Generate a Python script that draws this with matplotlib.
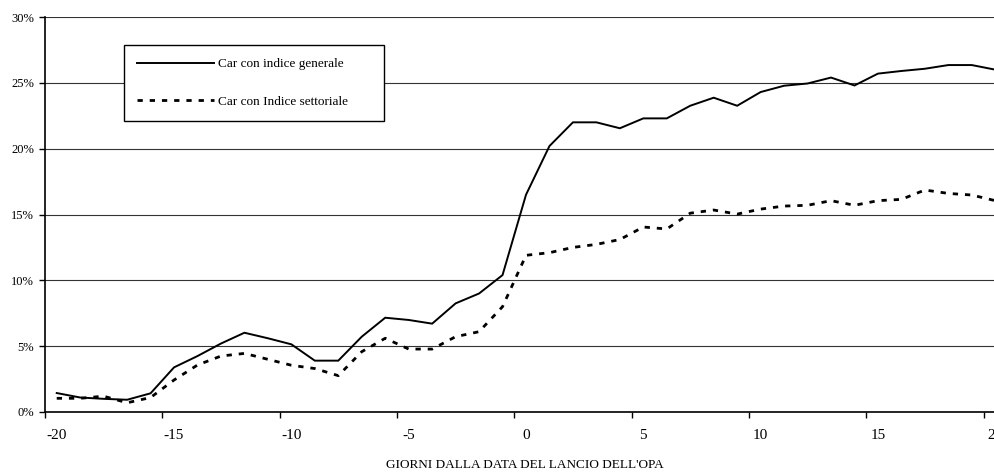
import numpy as np
import matplotlib
matplotlib.use("Agg")
import matplotlib.pyplot as plt
from matplotlib.ticker import FixedLocator, PercentFormatter

plt.rcParams['font.family'] = ['Liberation Serif', 'DejaVu Serif']

# days relative to the OPA announcement
giorni = list(range(-20, 21))

# CAR vs general market index (%)
car_generale = [1.44, 1.10, 1.00, 0.93, 1.42, 3.39, 4.25, 5.20, 6.02, 5.60,
                5.14, 3.90, 3.90, 5.72, 7.16, 6.99, 6.71, 8.25, 9.00, 10.40,
                16.50, 20.20, 22.00, 22.00, 21.55, 22.30, 22.30, 23.26, 23.87, 23.26,
                24.30, 24.78, 24.95, 25.40, 24.80, 25.70, 25.90, 26.07, 26.35, 26.35,
                26.00]

# CAR vs sector index (%)
car_settoriale = [1.04, 1.04, 1.20, 0.70, 1.10, 2.43, 3.57, 4.25, 4.45, 4.00,
                  3.55, 3.30, 2.76, 4.58, 5.60, 4.78, 4.78, 5.72, 6.10, 8.00,
                  11.90, 12.10, 12.50, 12.73, 13.10, 14.05, 13.90, 15.10, 15.34, 15.03,
                  15.41, 15.64, 15.70, 16.05, 15.70, 16.05, 16.15, 16.86, 16.60, 16.48,
                  16.05]

xtick_labels = [-20, -15, -10, -5, 0, 5, 10, 15, 20]
ytick_values = [0, 5, 10, 15, 20, 25, 30]

fig = plt.figure(figsize=(9.95, 4.72), dpi=100)
# plot area runs past the right edge, like the cropped original
ax = fig.add_axes([45 / 995, 60 / 472, 962 / 995, 395 / 472])

ax.plot(giorni, car_generale, color='black', lw=1.4, solid_joinstyle='miter',
        label='Car con indice generale')
ax.plot(giorni, car_settoriale, color='black', lw=2.0, linestyle=(0, (1.9, 2.5)),
        dash_capstyle='butt', label='Car con Indice settoriale')

ax.set_xlim(-20.5, 20.5)
ax.set_ylim(0, 30)

ax.xaxis.set_major_locator(FixedLocator(xtick_labels))
ax.xaxis.set_minor_locator(FixedLocator([v - 0.5 for v in xtick_labels]))
ax.set_xticklabels([str(v) for v in xtick_labels])
ax.tick_params(axis='x', which='major', length=0, pad=12, labelsize=11)
ax.tick_params(axis='x', which='minor', length=4, width=1, direction='out')

ax.set_yticks(ytick_values)
ax.yaxis.set_major_formatter(PercentFormatter(decimals=0))
ax.tick_params(axis='y', length=4, width=1, direction='out', pad=4, labelsize=9)

ax.grid(axis='y', color='#333333', lw=0.8)
ax.set_axisbelow(True)
for side in ['top', 'right']:
    ax.spines[side].set_visible(False)
for side in ['left', 'bottom']:
    ax.spines[side].set_linewidth(1.2)

leg = ax.legend(loc='upper left', bbox_to_anchor=(0.0821, 0.737, 0.2703, 0.192),
                mode='expand', borderaxespad=0, fontsize=9.5, handlelength=5.8,
                handletextpad=0.3, labelspacing=1.9, borderpad=1.0,
                fancybox=False, framealpha=1, edgecolor='black')
leg.get_frame().set_linewidth(1.0)

fig.text(525 / 995, 1 - 464.5 / 472, "GIORNI DALLA DATA DEL LANCIO DELL'OPA",
         ha='center', va='center', fontsize=9.5)

fig.savefig('out.png', dpi=100)
